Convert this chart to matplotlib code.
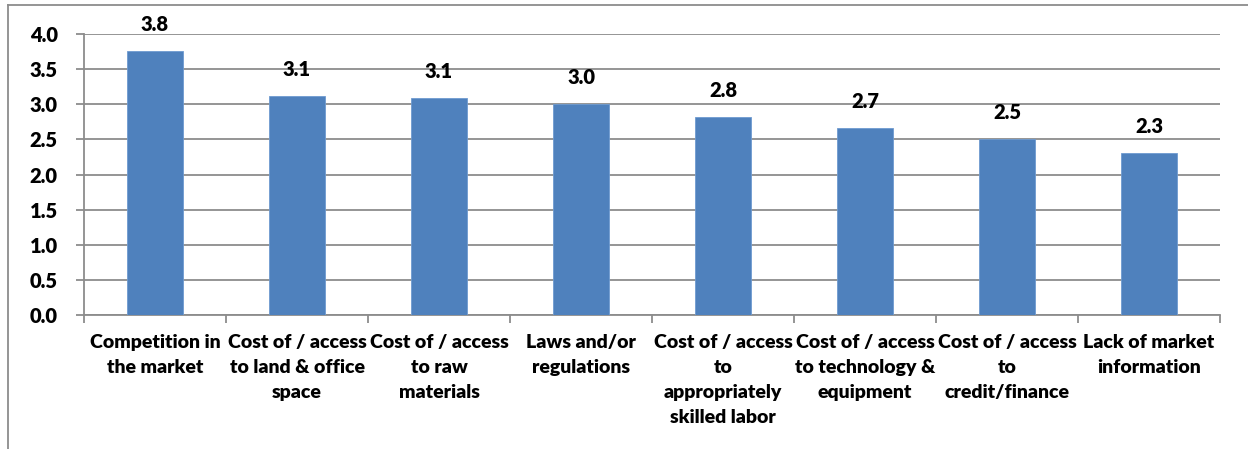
"""Bar chart of obstacles rated by firms."""

import matplotlib
matplotlib.use("Agg")
import matplotlib.pyplot as plt
import numpy as np
from matplotlib.lines import Line2D

categories = [
    "Competition in\nthe market",
    "Cost of / access\nto land & office\nspace",
    "Cost of / access\nto raw\nmaterials",
    "Laws and/or\nregulations",
    "Cost of / access\nto\nappropriately\nskilled labor",
    "Cost of / access\nto technology &\nequipment",
    "Cost of / access\nto\ncredit/finance",
    "Lack of market\ninformation",
]
scores = [3.76, 3.12, 3.09, 3.00, 2.82, 2.66, 2.51, 2.30]
y_ticks = [0.0, 0.5, 1.0, 1.5, 2.0, 2.5, 3.0, 3.5, 4.0]

plt.rcParams["font.family"] = ["Lato", "DejaVu Sans"]
WEIGHT = 800

fig = plt.figure(figsize=(12.48, 4.49), dpi=100)
ax = fig.add_axes([0.0673, 0.2984, 0.9103, 0.6259])

x = np.arange(len(categories))
bars = ax.bar(x, scores, width=0.39, color="#4f81bd", zorder=3,
              edgecolor="#6f9bd0", linewidth=0.6)

for b, v in zip(bars, scores):
    ax.annotate(f"{v:.1f}", (b.get_x() + b.get_width() / 2, v),
                xytext=(0, 14.5), textcoords="offset points",
                ha="center", va="baseline", fontsize=14.5, fontweight=WEIGHT)

ax.set_xlim(-0.5, len(categories) - 0.5)
ax.set_ylim(0, 4)
ax.set_yticks(y_ticks)
ax.set_yticklabels([f"{t:.1f}" for t in y_ticks], fontsize=14.5,
                   fontweight=WEIGHT)
ax.yaxis.grid(True, color="#8c8c8c", linewidth=1.3, zorder=0)

# category ticks between bars, labels centred under bars
ax.set_xticks(np.arange(len(categories) + 1) - 0.5)
ax.set_xticklabels([])
ax.set_xticks(x, minor=True)
ax.set_xticklabels(categories, minor=True, fontsize=14, fontweight=WEIGHT,
                   linespacing=1.55, va="top")
ax.tick_params(axis="x", which="minor", length=0, pad=14)
ax.tick_params(axis="x", which="major", length=6, color="#8c8c8c",
               width=1.3, direction="out")
ax.tick_params(axis="y", length=6, color="#8c8c8c", width=1.3, pad=13)

for s in ["top", "right"]:
    ax.spines[s].set_visible(False)
for s in ["left", "bottom"]:
    ax.spines[s].set_color("#8c8c8c")
    ax.spines[s].set_linewidth(1.3)

# outer chart frame, cut by the image edge
W, H = 1248, 449
fig.add_artist(Line2D([8 / W, 1], [1 - 5 / H, 1 - 5 / H],
                      transform=fig.transFigure, color="#8c8c8c", lw=1.3))
fig.add_artist(Line2D([8 / W, 8 / W], [0, 1 - 5 / H],
                      transform=fig.transFigure, color="#8c8c8c", lw=1.3))

fig.savefig("out.png", dpi=100)
